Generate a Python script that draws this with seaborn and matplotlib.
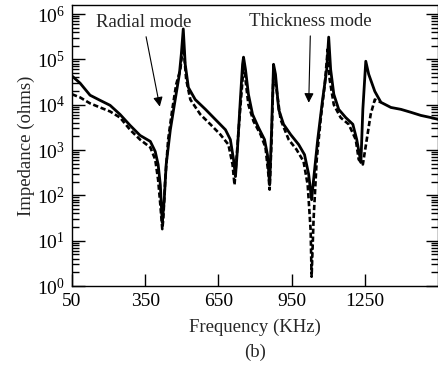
import matplotlib
matplotlib.use("Agg")
import matplotlib.pyplot as plt
import pandas as pd
import seaborn as sns

# solid trace (KHz, ohms)
solid_freq = [50, 83, 124, 165, 206, 247, 288, 329, 371, 391, 403, 412, 416, 420,
              428, 436, 453, 473, 490, 498, 506, 514, 527, 555, 597, 638, 679, 699,
              712, 720, 728, 740, 749, 753, 761, 773, 790, 814, 839, 851, 860, 868,
              876, 884, 897, 917, 946, 979, 1003, 1020, 1032, 1040, 1057, 1077, 1094,
              1102, 1110, 1123, 1143, 1172, 1201, 1217, 1234, 1242, 1254, 1266, 1291,
              1316, 1357, 1398, 1439, 1480, 1521, 1554]
solid_imp = [43000, 30000, 16200, 12500, 9700, 6100, 3500, 2100, 1550, 930, 480, 170,
             62, 25, 80, 480, 2800, 13000, 47000, 130000, 470000, 78000, 24000, 13000,
             7900, 4700, 2800, 1700, 620, 260, 1030, 13000, 78000, 112000, 60000,
             17000, 6100, 3150, 1700, 790, 170, 2800, 78000, 47000, 7900, 3700, 2200,
             1320, 790, 290, 80, 220, 1700, 13000, 60000, 310000, 60000, 17000, 7900,
             5200, 3700, 1700, 530, 7900, 91000, 47000, 19700, 11300, 8700, 7900,
             6800, 5800, 5200, 4700]

# dashed trace (KHz, ohms)
dashed_freq = [50, 83, 124, 165, 206, 247, 288, 329, 371, 391, 403, 412, 420, 424,
               432, 444, 461, 477, 494, 506, 518, 535, 576, 617, 658, 691, 708, 716,
               724, 736, 749, 753, 761, 773, 794, 823, 843, 855, 860, 868, 876, 888,
               905, 938, 970, 999, 1016, 1028, 1032, 1040, 1053, 1069, 1086, 1098,
               1106, 1123, 1151, 1184, 1213, 1225, 1242, 1258, 1274, 1291, 1316]
dashed_imp = [17000, 14500, 10700, 8700, 7100, 5200, 2800, 1700, 1140, 620, 220, 62,
              18, 29, 220, 1700, 7900, 28000, 60000, 218000, 36000, 13000, 6100, 3700,
              2200, 1320, 480, 170, 620, 4700, 36000, 91000, 36000, 10000, 4300, 2200,
              1140, 290, 134, 1700, 60000, 22000, 4700, 1700, 1030, 560, 170, 17, 1.6,
              29, 620, 4700, 28000, 167000, 36000, 10000, 5200, 3700, 1700, 620, 480,
              1700, 6100, 13000, 11300]

x_ticks = [50, 350, 650, 950, 1250]

sns.set_style("ticks")
plt.rcParams["font.family"] = ["Liberation Serif", "DejaVu Serif"]
plt.rcParams["mathtext.fontset"] = "custom"
plt.rcParams["mathtext.rm"] = "Liberation Serif"
plt.rcParams["mathtext.it"] = "Liberation Serif:italic"

solid = pd.DataFrame({"freq": solid_freq, "imp": solid_imp})
dashed = pd.DataFrame({"freq": dashed_freq, "imp": dashed_imp})

fig = plt.figure(figsize=(4.39, 3.74), dpi=100)
ax = fig.add_axes([72 / 439, 88 / 374, 366 / 439, 281 / 374])

sns.lineplot(solid, x="freq", y="imp", ax=ax, sort=False, color="black",
             linewidth=2.0, estimator=None)
sns.lineplot(dashed, x="freq", y="imp", ax=ax, sort=False, color="black",
             linewidth=1.9, linestyle=(0, (2, 1)), estimator=None)

ax.set_yscale("log")
ax.set_xlim(50, 1550)
ax.set_ylim(1, 10 ** 6.2)
ax.set_xticks(x_ticks)
ax.set_xticklabels([str(t) for t in x_ticks])
ax.set_xlabel("Frequency (KHz)", fontsize=13.5, labelpad=6)
ax.set_ylabel("Impedance (ohms)", fontsize=13.5, labelpad=1)

for side in ax.spines.values():
    side.set_color("black")
    side.set_linewidth(1.0)
ax.tick_params(axis="both", which="both", direction="in", colors="black",
               labelsize=14, top=False, right=True)
ax.tick_params(axis="both", which="major", length=9, width=1.0)
ax.tick_params(axis="y", which="minor", length=5, width=1.0)
ax.tick_params(axis="y", which="major", pad=5)
ax.tick_params(axis="x", which="minor", bottom=False, top=False)
ax.tick_params(axis="x", which="major", pad=5)

arrow = dict(arrowstyle="-|>", color="black", lw=0.8, mutation_scale=14)
ax.annotate("Radial mode", xy=(412, 7900), xytext=(342, 6.6e5),
            fontsize=13.5, ha="center", va="center", arrowprops=arrow)
ax.annotate("Thickness mode", xy=(1020, 9600), xytext=(1028, 6.9e5),
            fontsize=13.5, ha="center", va="center", arrowprops=arrow)

fig.text(255 / 439, 1 - 352 / 374, "(b)", fontsize=13.5, ha="center", va="center")

fig.savefig("out.png", dpi=100)
